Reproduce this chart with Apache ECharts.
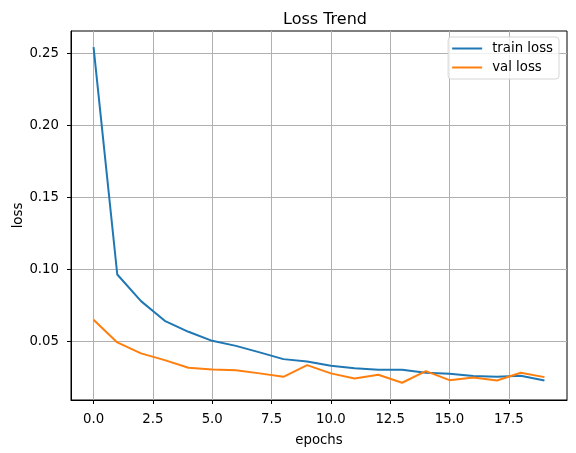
<!DOCTYPE html>
<html>
<head>
<meta charset="utf-8">
<script src="https://cdn.jsdelivr.net/npm/echarts@6/dist/echarts.min.js"></script>
<style>
  html, body { margin: 0; padding: 0; background: #fff; }
  #container { width: 576px; height: 453px; }
</style>
</head>
<body>
<div id="container"></div>
<script>
var epochs = [0, 1, 2, 3, 4, 5, 6, 7, 8, 9, 10, 11, 12, 13, 14, 15, 16, 17, 18, 19];
var trainLoss = [0.2545, 0.0965, 0.0780, 0.0643, 0.0567, 0.0504, 0.0469, 0.0424, 0.0377, 0.0361,
                 0.0331, 0.0313, 0.0303, 0.0303, 0.0282, 0.0275, 0.0259, 0.0254, 0.0261, 0.0229];
var valLoss = [0.0650, 0.0493, 0.0417, 0.0370, 0.0317, 0.0305, 0.0299, 0.0278, 0.0254, 0.0335,
               0.0278, 0.0243, 0.0268, 0.0213, 0.0294, 0.0231, 0.0250, 0.0229, 0.0282, 0.0252];
var xTicks = [0, 2.5, 5, 7.5, 10, 12.5, 15, 17.5];
var yTicks = [0.05, 0.10, 0.15, 0.20, 0.25];

var dom = document.getElementById("container");
var myChart = echarts.init(dom);

function pairs(xs, ys) {
    return xs.map(function (x, i) { return [x, ys[i]]; });
}

var font = 'DejaVu Sans';

option = {
    animation: false,
    title: {
        text: 'Loss Trend',
        left: 320,
        textAlign: 'center',
        top: 7,
        textStyle: { fontFamily: font, fontSize: 16, fontWeight: 'normal', color: '#000' }
    },
    legend: {
        orient: 'vertical',
        right: 17,
        top: 37,
        padding: [5, 6, 5, 4],
        itemGap: 6,
        itemWidth: 30,
        itemHeight: 2,
        icon: 'rect',
        borderColor: '#d5d5d5',
        borderWidth: 1,
        borderRadius: 3,
        backgroundColor: 'rgba(255,255,255,0.8)',
        textStyle: { fontFamily: font, fontSize: 13.3, color: '#000', padding: [0, 0, 0, 5] },
        data: ['train loss', 'val loss']
    },
    grid: {
        left: 71,
        right: 9,
        top: 31,
        bottom: 53,
        outerBoundsMode: 'none',
        containLabel: false,
        show: true,
        borderColor: '#000',
        borderWidth: 1
    },
    xAxis: {
        type: 'value',
        min: -0.95,
        max: 19.95,
        name: 'epochs',
        nameLocation: 'middle',
        nameGap: 34,
        nameMoveOverlap: false,
        nameTextStyle: { fontFamily: font, fontSize: 13.3, color: '#000' },
        axisLine: { show: true, onZero: false, lineStyle: { color: '#000', width: 1 } },
        axisTick: { show: true, inside: false, length: 4, customValues: xTicks, lineStyle: { color: '#000' } },
        axisLabel: {
            customValues: xTicks,
            margin: 13,
            fontFamily: font, fontSize: 13.3, color: '#000',
            formatter: function (v) { return v.toFixed(1); }
        },
        splitLine: { show: true, customValues: xTicks, lineStyle: { color: '#b0b0b0', width: 1 } }
    },
    yAxis: {
        type: 'value',
        min: 0.0093,
        max: 0.2657,
        name: 'loss',
        nameLocation: 'middle',
        nameGap: 46,
        nameMoveOverlap: false,
        nameTextStyle: { fontFamily: font, fontSize: 13.3, color: '#000' },
        axisLine: { show: true, onZero: false, lineStyle: { color: '#000', width: 1 } },
        axisTick: { show: true, inside: false, length: 4, customValues: yTicks, lineStyle: { color: '#000' } },
        axisLabel: {
            customValues: yTicks,
            margin: 12,
            fontFamily: font, fontSize: 13.3, color: '#000',
            formatter: function (v) { return v.toFixed(2); }
        },
        splitLine: { show: true, customValues: yTicks, lineStyle: { color: '#b0b0b0', width: 1 } }
    },
    series: [
        {
            name: 'train loss',
            type: 'line',
            data: pairs(epochs, trainLoss),
            showSymbol: false,
            symbol: 'none',
            color: '#1f77b4',
            lineStyle: { width: 2, color: '#1f77b4' }
        },
        {
            name: 'val loss',
            type: 'line',
            data: pairs(epochs, valLoss),
            showSymbol: false,
            symbol: 'none',
            color: '#ff7f0e',
            lineStyle: { width: 2, color: '#ff7f0e' }
        }
    ]
};

myChart.setOption(option, true);
</script>
</body>
</html>
